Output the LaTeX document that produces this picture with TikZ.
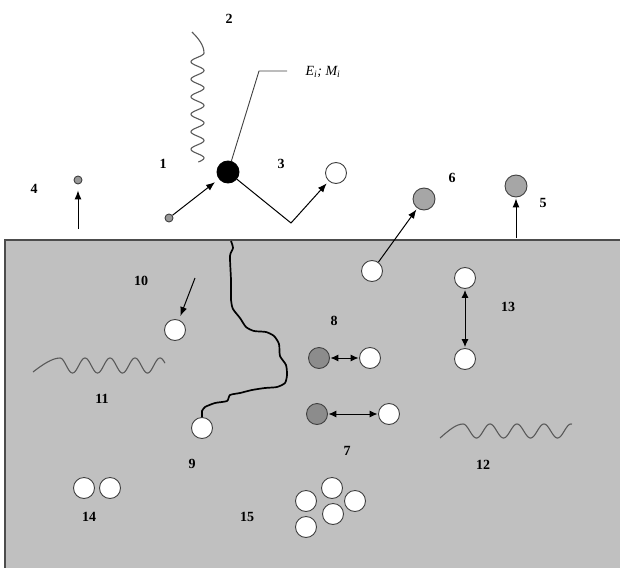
\documentclass[tikz,border=0pt]{standalone}
\usepackage{fontspec}
\setmainfont{Liberation Serif}
\usetikzlibrary{arrows.meta}
\definecolor{bulk}{RGB}{192,192,192}
\tikzset{
num/.style={
font=\bfseries\fontsize{14}{16}\selectfont
},
wpart/.style={
circle,
draw=black!75,
fill=white,
line width=0.9pt,
minimum size=21pt,
inner sep=0pt
},
gpart/.style={
wpart,
fill=black!35
},
dpart/.style={
wpart,
fill=black!45
},
speck/.style={
wpart,
fill=black!40,
minimum size=8pt
},
arrow/.style={
-{Latex[length=9pt,width=7pt]},
line width=1pt
},
darrow/.style={
{Latex[length=8pt,width=7pt]}-{Latex[length=8pt,width=7pt]},
line width=1pt
},
wave/.style={
draw=black!65,
line width=1.1pt
},
crack/.style={
draw=black,
line width=1.7pt,
line join=round
}
}
\begin{document}
\begin{tikzpicture}[x=1pt,y=-1pt]
\useasboundingbox (0,0) rectangle (620,567);
% material
\fill[bulk](5,240) rectangle (630,580);
\draw[black!70,line width=1.2pt](5,580)--(5,240)--(630,240);

% surface
\node[num](n2) at (229,19){2};
\node[font=\itshape\fontsize{14}{16}\selectfont](ei) at (323,72){E\textsubscript{i}; M\textsubscript{i}};
\node[num](n1) at (163,164){1};
\node[num](n3) at (281,164){3};
\node[num](n4) at (34,189){4};
\node[num](n6) at (452,178){6};
\node[num](n5) at (543,203){5};

\node[wpart,fill=black,draw=black,minimum size=22pt](bdot) at (228,172){};
\node[wpart](w3) at (336,173){};
\node[speck](sd1) at (169,218){};
\node[speck](sd4) at (78,180){};
\node[gpart,minimum size=22pt](g6) at (424,199){};
\node[gpart,minimum size=22pt](g5) at (516,186){};

\coordinate (ldk) at (259,71);
\coordinate (lde) at (287,71);
\coordinate (vtx) at (291,223);
\coordinate (a4) at (78,229);
\coordinate (a5) at (516,238);

\draw[wave](192,32) .. controls (198,38) and (204,45) .. (204,53)
  -- plot[domain=0:109,samples=160] ({197.5+6.5*cos(\x*20.5714)},{53+\x});
\draw[black!75,line width=0.9pt](bdot)--(ldk)--(lde);
\draw[arrow,shorten >=5pt](sd1)--(bdot);
\draw[arrow,shorten >=3pt](bdot)--(vtx)--(w3);
\draw[arrow,shorten >=6pt](a4)--(sd4);
\draw[arrow,shorten >=1pt](a5)--(g5);

% bulk
\node[num](n10) at (141,281){10};
\node[num](n8) at (334,321){8};
\node[num](n13) at (508,307){13};
\node[num](n11) at (102,399){11};
\node[num](n9) at (192,464){9};
\node[num](n7) at (347,451){7};
\node[num](n12) at (483,465){12};
\node[num](n14) at (89,517){14};
\node[num](n15) at (247,517){15};

\node[wpart](w6) at (372,271){};
\node[wpart](w10) at (175,330){};
\node[wpart](w9) at (202,428){};
\node[dpart](g8) at (319,358){};
\node[wpart](w8) at (370,358){};
\node[dpart](g7) at (317,414){};
\node[wpart](w7) at (389,414){};
\node[wpart](w13a) at (465,278){};
\node[wpart](w13b) at (465,359){};
\node[wpart](w14a) at (84,488){};
\node[wpart](w14b) at (110,488){};
\node[wpart](c1) at (306,501){};
\node[wpart](c2) at (332,488){};
\node[wpart](c3) at (355,501){};
\node[wpart](c4) at (333,514){};
\node[wpart](c5) at (306,527){};

\coordinate (a10) at (195,278);

\draw[arrow,shorten >=1.5pt](w6)--(g6);
\draw[arrow,shorten >=4pt](a10)--(w10);
\draw[darrow,shorten <=0.5pt,shorten >=0.5pt](g8)--(w8);
\draw[darrow,shorten <=0.5pt,shorten >=0.5pt](g7)--(w7);
\draw[darrow,shorten <=1pt,shorten >=1pt](w13a)--(w13b);

\draw[crack] plot[smooth,tension=0.4] coordinates {(231,241) (233,248) (230,256) (231,280) (231,300) (233,309)
  (240,318) (246,327) (254,331) (266,332) (274,336) (279,344) (280,356) (286,365) (287,375)
  (285,383) (277,387) (265,388) (252,390) (240,393) (230,395) (227,401) (215,403) (205,407) (202,411)}
  -- (w9.north);

\draw[wave](33,372) .. controls (42,365) and (52,358) .. (60,358)
  -- plot[domain=0:105,samples=160] ({60+\x},{365.5-7.5*cos(\x*14.4)});
\draw[wave](440,438) .. controls (448,431) and (456,424) .. (463,424)
  -- plot[domain=0:109,samples=160] ({463+\x},{431-7*cos(\x*13.3333)});
\end{tikzpicture}
\end{document}
